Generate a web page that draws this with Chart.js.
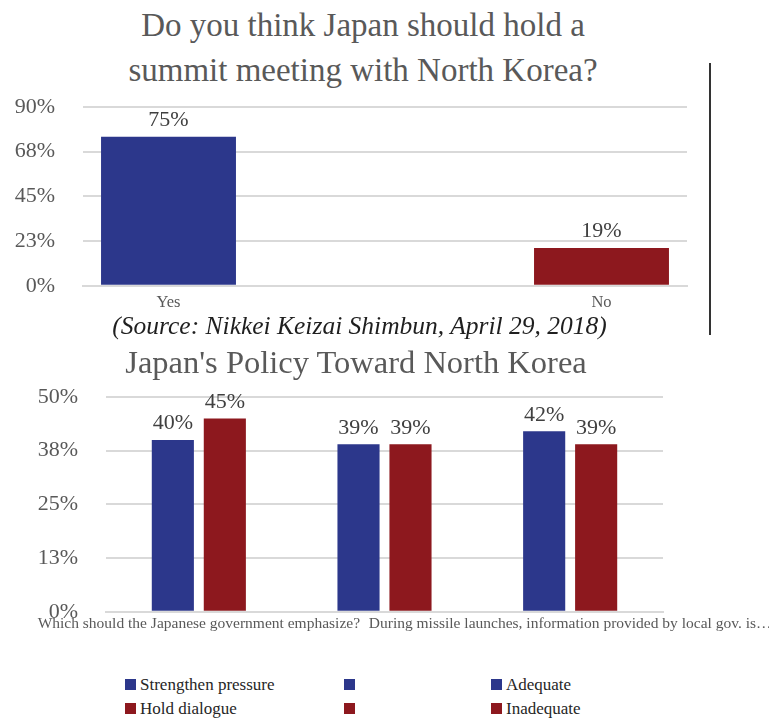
<!DOCTYPE html>
<html><head><meta charset="utf-8">
<script src="https://cdn.jsdelivr.net/npm/chart.js@4.4.1/dist/chart.umd.min.js"></script>
<style>
html,body{margin:0;padding:0;background:#fff;}
body{width:769px;height:718px;position:relative;overflow:hidden;font-family:'Liberation Serif','Times New Roman',serif;}
.abs{position:absolute;}
#title1{left:0;top:3px;width:726px;text-align:center;font-size:33px;line-height:45px;color:#595959;}
#source{left:0;top:313px;width:719px;text-align:center;font-size:25.5px;line-height:25px;font-style:italic;color:#1f1f1f;white-space:nowrap;}
#title2{left:0;top:346px;width:712px;text-align:center;font-size:32.5px;line-height:32.5px;color:#595959;white-space:nowrap;}
#vline{left:709px;top:63px;width:2px;height:272px;background:#333;}
#c1{left:0;top:0;}
#c2{left:0;top:340px;}
.lg{position:absolute;font-size:17px;line-height:20px;color:#262626;white-space:nowrap;}
.lg i{position:absolute;left:0;top:4px;width:11px;height:11px;}
.lg span{position:absolute;left:15px;top:0;}
</style>
</head><body>
<div id="title1" class="abs">Do you think Japan should hold a<br>summit meeting with North Korea?</div>
<canvas id="c1" class="abs" width="769" height="327"></canvas>
<div id="vline" class="abs"></div>
<div id="source" class="abs">(Source: Nikkei Keizai Shimbun, April 29, 2018)</div>
<div id="title2" class="abs">Japan's Policy Toward North Korea</div>
<canvas id="c2" class="abs" width="769" height="313"></canvas>
<div id="legend"></div>
<script>
// ---------- data ----------
const topCategories = ['Yes', 'No'];
const topYes = [75, null];
const topNo = [null, 19];
const topTickLabels = ['0%', '23%', '45%', '68%', '90%'];

const bottomCategories = ['Which should the Japanese government emphasize?', '', 'During missile launches, information provided by local gov. is\u2026'];
const strengthenPressure = [40, null, null];
const holdDialogue = [45, null, null];
const blankBlue = [null, 39, null];
const blankRed = [null, 39, null];
const adequate = [null, null, 42];
const inadequate = [null, null, 39];
const bottomTickLabels = ['0%', '13%', '25%', '38%', '50%'];
const legendLabels = ['Strengthen pressure', 'Hold dialogue', '', '', 'Adequate', 'Inadequate'];

// ---------- styles ----------
const BLUE = '#2c378b';
const RED = '#8d181e';
const FONT = "'Liberation Serif','Times New Roman',serif";
const GRID = '#d9d9d9';

const valueLabels = {
  id: 'valueLabels',
  afterDatasetsDraw(chart, args, opts) {
    const ctx = chart.ctx;
    ctx.save();
    ctx.font = opts.size + 'px ' + FONT;
    ctx.fillStyle = opts.color;
    ctx.textAlign = 'center';
    ctx.textBaseline = 'alphabetic';
    chart.data.datasets.forEach((ds, i) => {
      const meta = chart.getDatasetMeta(i);
      meta.data.forEach((el, j) => {
        const v = ds.data[j];
        if (v === null || v === undefined) return;
        ctx.fillText(v + '%', el.x, el.y - opts.gap);
      });
    });
    ctx.restore();
  }
};

const barCatLabels = {
  id: 'barCatLabels',
  afterDraw(chart, args, opts) {
    if (!opts.enabled) return;
    const ctx = chart.ctx;
    ctx.save();
    ctx.font = opts.size + 'px ' + FONT;
    ctx.fillStyle = opts.color;
    ctx.textAlign = 'center';
    ctx.textBaseline = 'alphabetic';
    chart.data.labels.forEach((lab, j) => {
      chart.data.datasets.forEach((ds, i) => {
        const v = ds.data[j];
        if (v === null || v === undefined) return;
        const el = chart.getDatasetMeta(i).data[j];
        ctx.fillText(lab, el.x, chart.chartArea.bottom + opts.offset);
      });
    });
    ctx.restore();
  }
};

// ---------- top chart ----------
new Chart(document.getElementById('c1'), {
  type: 'bar',
  data: {
    labels: topCategories,
    datasets: [
      { label: 'Yes', data: topYes, backgroundColor: BLUE },
      { label: 'No', data: topNo, backgroundColor: RED }
    ]
  },
  options: {
    responsive: false,
    animation: false,
    events: [],
    categoryPercentage: 0.8675,
    barPercentage: 1.03,
    layout: { padding: { left: 0, right: 82, top: 107, bottom: 0 } },
    plugins: {
      legend: { display: false },
      tooltip: { enabled: false },
      valueLabels: { size: 22, color: '#404040', gap: 11 },
      barCatLabels: { enabled: true, size: 16.5, color: '#595959', offset: 21 }
    },
    scales: {
      x: {
        grid: { display: false, drawTicks: false },
        border: { display: true, color: GRID, width: 2 },
        ticks: { display: false },
        afterFit(s) { s.height = 35; s.paddingLeft = 0; s.paddingRight = 0; }
      },
      y: {
        min: 0, max: 90,
        ticks: { stepSize: 22.5, padding: 28, color: '#595959', font: { family: FONT, size: 22 },
          callback: (v, i) => topTickLabels[i] },
        grid: { color: GRID, lineWidth: 2, drawTicks: false },
        border: { display: false },
        afterFit(s) { s.width = 83; }
      }
    }
  },
  plugins: [valueLabels, barCatLabels]
});

// ---------- bottom chart ----------
const bottomSeries = [strengthenPressure, holdDialogue, blankBlue, blankRed, adequate, inadequate];
const bottomColors = [BLUE, RED, BLUE, RED, BLUE, RED];
const chart2 = new Chart(document.getElementById('c2'), {
  type: 'bar',
  data: {
    labels: bottomCategories,
    datasets: bottomSeries.map((d, i) => ({
      label: legendLabels[i], data: d, backgroundColor: bottomColors[i], skipNull: true
    }))
  },
  options: {
    responsive: false,
    animation: false,
    events: [],
    categoryPercentage: 0.56,
    barPercentage: 0.81,
    layout: { padding: { left: 0, right: 106, top: 57, bottom: 0 } },
    plugins: {
      legend: { display: false },
      tooltip: { enabled: false },
      valueLabels: { size: 22, color: '#404040', gap: 10.5 },
      barCatLabels: { enabled: false }
    },
    scales: {
      x: {
        grid: { display: false, drawTicks: false },
        border: { display: true, color: GRID, width: 2 },
        ticks: { display: true, autoSkip: false, maxRotation: 0, minRotation: 0, padding: 3,
          color: '#595959', font: { family: FONT, size: 15.5 } },
        afterFit(s) { s.height = 29; s.paddingLeft = 0; s.paddingRight = 0; }
      },
      y: {
        min: 0, max: 50,
        ticks: { stepSize: 12.5, padding: 28, color: '#595959', font: { family: FONT, size: 22 },
          callback: (v, i) => bottomTickLabels[i] },
        grid: { color: GRID, lineWidth: 2, drawTicks: false },
        border: { display: false },
        afterFit(s) { s.width = 106; }
      }
    }
  },
  plugins: [valueLabels, barCatLabels]
});

// ---------- legend (built from the bottom chart's datasets) ----------
const legendCols = [125, 344, 491];
const legendRows = [675, 699];
const legendEl = document.getElementById('legend');
chart2.data.datasets.forEach((ds, i) => {
  const col = Math.floor(i / 2), row = i % 2;
  const d = document.createElement('div');
  d.className = 'lg';
  d.style.left = legendCols[col] + 'px';
  d.style.top = legendRows[row] + 'px';
  const sw = document.createElement('i');
  sw.style.background = ds.backgroundColor;
  const tx = document.createElement('span');
  tx.textContent = ds.label;
  d.appendChild(sw); d.appendChild(tx);
  legendEl.appendChild(d);
});
</script>
</body></html>
